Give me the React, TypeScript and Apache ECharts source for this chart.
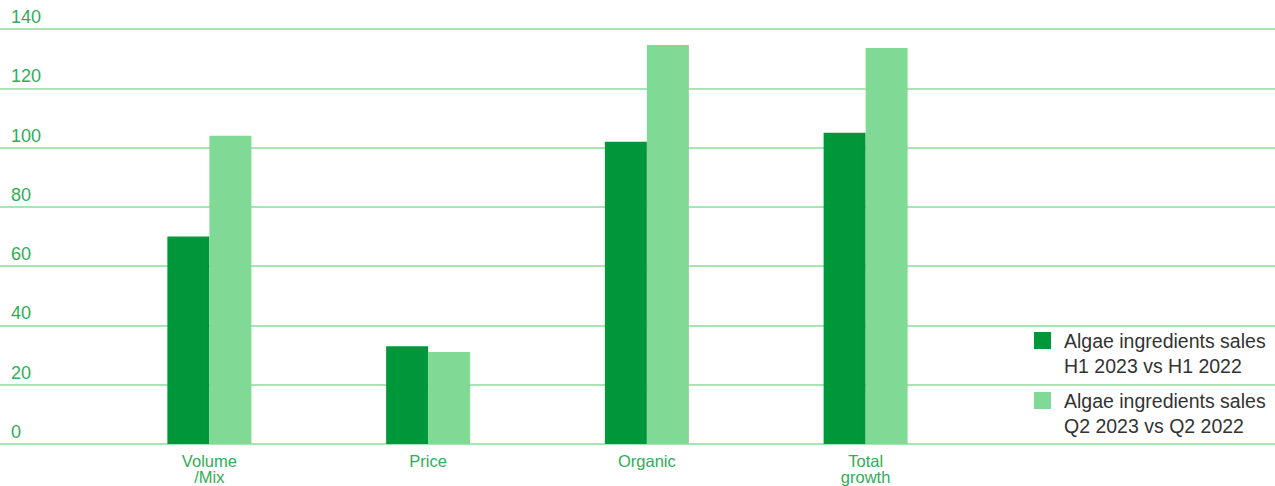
import React, { useEffect, useRef } from "react";
import * as echarts from "echarts";

const categories = ["Volume\n/Mix", "Price", "Organic", "Total\ngrowth"];
const seriesH1Name = "Algae ingredients sales\nH1 2023 vs H1 2022";
const seriesQ2Name = "Algae ingredients sales\nQ2 2023 vs Q2 2022";
const seriesH1 = [70, 33, 102, 105];
const seriesQ2 = [104, 31, 134.6, 133.6];
const yTicks = [0, 20, 40, 60, 80, 100, 120, 140];

const DARK = "#00973a";
const LIGHT = "#80d995";
const GRID = "#a8e5b4";
const LABEL = "#2fae57";
const FONT = "'Liberation Sans', Arial, sans-serif";

export default function App() {
  const ref = useRef<HTMLDivElement>(null);
  useEffect(() => {
    document.body.style.margin = "0";
    const chart = echarts.init(ref.current!, null, { renderer: "svg" });
    const top = 29;
    const bottom = 42;
    const yMin = yTicks[0];
    const yMax = yTicks[yTicks.length - 1];
    const interval = yTicks[1] - yTicks[0];
    const legendItems = [
      { name: seriesH1Name, color: DARK, y: 332 },
      { name: seriesQ2Name, color: LIGHT, y: 392 },
    ];
    chart.setOption({
      animation: false,
      textStyle: { fontFamily: FONT },
      grid: [
        { left: 0, right: 0, top, bottom },
        { left: 100, width: 875, top, bottom },
      ],
      xAxis: [
        { gridIndex: 0, type: "category", data: [""], show: false },
        {
          gridIndex: 1,
          type: "category",
          data: categories,
          axisLine: { show: false },
          axisTick: { show: false },
          axisLabel: {
            color: LABEL,
            fontSize: 16.5,
            fontFamily: FONT,
            lineHeight: 16,
            margin: 9,
          },
        },
      ],
      yAxis: [
        {
          gridIndex: 0,
          type: "value",
          min: yMin,
          max: yMax,
          interval,
          axisLine: { show: false },
          axisTick: { show: false },
          splitLine: { show: true, lineStyle: { color: GRID, width: 2 } },
          axisLabel: {
            inside: true,
            margin: 11,
            align: "left",
            verticalAlign: "bottom",
            padding: [0, 0, 3, 0],
            color: LABEL,
            fontSize: 18,
            fontFamily: FONT,
          },
        },
        {
          gridIndex: 1,
          type: "value",
          min: yMin,
          max: yMax,
          interval,
          show: false,
          splitLine: { show: false },
        },
      ],
      series: [
        {
          name: seriesH1Name,
          type: "bar",
          xAxisIndex: 1,
          yAxisIndex: 1,
          data: seriesH1,
          barWidth: 42,
          barGap: "0%",
          itemStyle: { color: DARK },
        },
        {
          name: seriesQ2Name,
          type: "bar",
          xAxisIndex: 1,
          yAxisIndex: 1,
          data: seriesQ2,
          barWidth: 42,
          barGap: "0%",
          itemStyle: { color: LIGHT },
        },
      ],
      graphic: legendItems.flatMap((it) => [
        {
          type: "rect",
          shape: { x: 1034, y: it.y, width: 17, height: 17 },
          style: { fill: it.color },
        },
        {
          type: "text",
          x: 1064,
          y: it.y - 4,
          style: {
            text: it.name,
            fill: "#333333",
            font: `19.5px ${FONT}`,
            lineHeight: 25,
            textAlign: "left",
            textVerticalAlign: "top",
          },
        },
      ]),
    });
    return () => chart.dispose();
  }, []);
  return <div ref={ref} style={{ width: 1275, height: 486 }} />;
}
